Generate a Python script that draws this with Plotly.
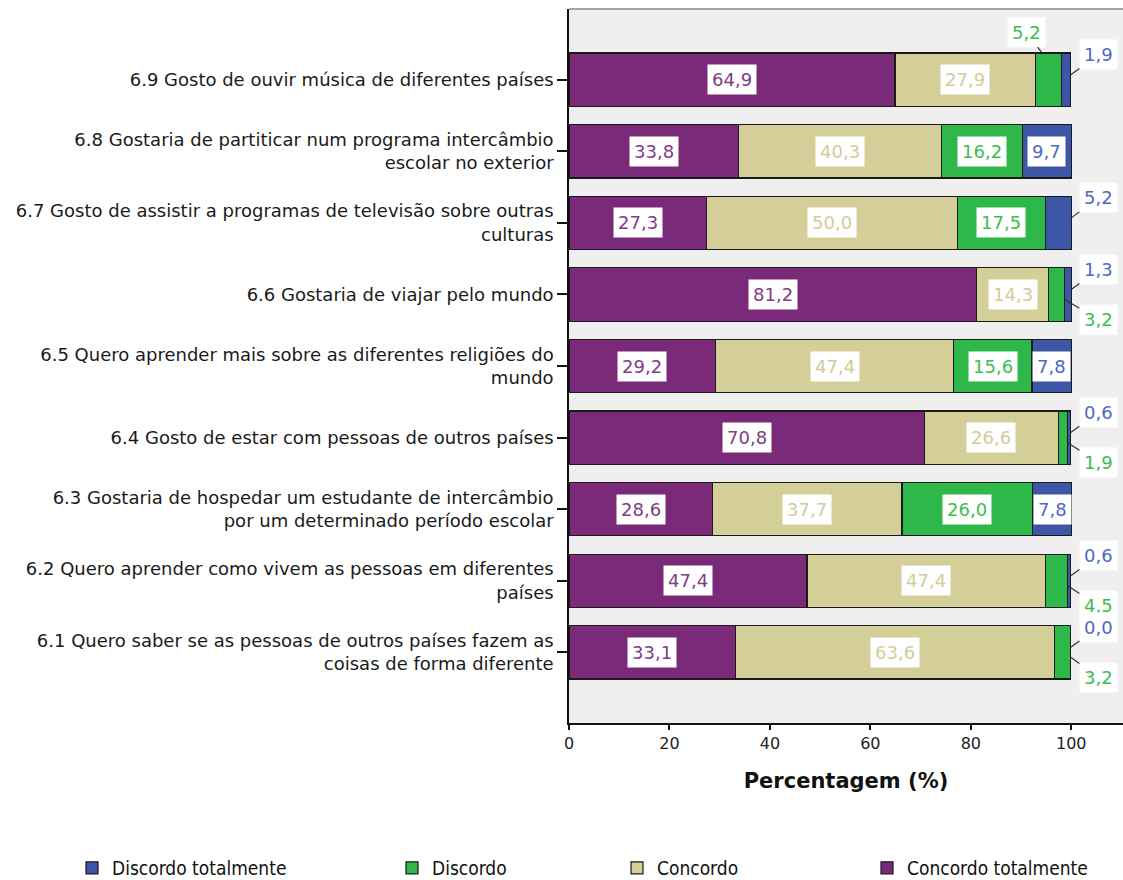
import plotly.graph_objects as go

# ---------------- data ----------------
categories = [
    "6.9 Gosto de ouvir música de diferentes países",
    "6.8 Gostaria de partiticar num programa intercâmbio<br>escolar no exterior",
    "6.7 Gosto de assistir a programas de televisão sobre outras<br>culturas",
    "6.6 Gostaria de viajar pelo mundo",
    "6.5 Quero aprender mais sobre as diferentes religiões do<br>mundo",
    "6.4 Gosto de estar com pessoas de outros países",
    "6.3 Gostaria de hospedar um estudante de intercâmbio<br>por um determinado período escolar",
    "6.2 Quero aprender como vivem as pessoas em diferentes<br>países",
    "6.1 Quero saber se as pessoas de outros países fazem as<br>coisas de forma diferente",
]
concordo_totalmente = [64.9, 33.8, 27.3, 81.2, 29.2, 70.8, 28.6, 47.4, 33.1]
concordo = [27.9, 40.3, 50.0, 14.3, 47.4, 26.6, 37.7, 47.4, 63.6]
discordo = [5.2, 16.2, 17.5, 3.2, 15.6, 1.9, 26.0, 4.5, 3.2]
discordo_totalmente = [1.9, 9.7, 5.2, 1.3, 7.8, 0.6, 7.8, 0.6, 0.0]
x_ticks = [0, 20, 40, 60, 80, 100]

# ---------------- style ----------------
FONT = "DejaVu Sans"
COND = "DejaVu Sans Condensed, DejaVu Sans"
series = [
    ("Concordo totalmente", concordo_totalmente, "#7B2A7A", "#803C86", "legend4"),
    ("Concordo", concordo, "#D4CE98", "#D3CC98", "legend3"),
    ("Discordo", discordo, "#2FB84A", "#3BBE50", "legend2"),
    ("Discordo totalmente", discordo_totalmente, "#3E56A6", "#4C69C4", "legend"),
]
INLINE_MIN = 7.0
yidx = list(range(len(categories)))

fig = go.Figure()
for name, vals, col, _, leg in series:
    fig.add_trace(go.Bar(
        y=yidx, x=vals, orientation="h", name=name, width=0.745,
        marker=dict(color=col, line=dict(color="#1A1A1A", width=1.2)),
        legend=leg, hoverinfo="skip",
    ))

def fmt(v):
    return f"{v:.1f}".replace(".", ",")

annotations = []
for i in yidx:
    cum = 0.0
    total = sum(s[1][i] for s in series)
    for k, (name, vals, col, tcol, _) in enumerate(series):
        v = vals[i]
        if v >= INLINE_MIN:
            annotations.append(dict(
                x=cum + v / 2, y=i, text=fmt(v), showarrow=False,
                font=dict(family=FONT, size=18, color=tcol),
                bgcolor="white", borderpad=4,
            ))
        else:
            if name == "Discordo totalmente":
                hx, hy, tx, ay = total, i - 0.07, 105.4, -20
            elif i == 0:  # top row: green label above bar
                hx, hy, tx, ay = cum + 1.4, i - 0.372, 91.1, -21
            else:
                hx, hy, tx, ay = cum + v, i + 0.07, 105.4, 20
            annotations.append(dict(
                x=hx, y=hy, ax=tx, axref="x", ay=ay, ayref="pixel",
                text=fmt(v), showarrow=True, arrowhead=0, arrowwidth=1.2,
                arrowcolor="#333333", standoff=0,
                font=dict(family=FONT, size=18, color=tcol),
                bgcolor="white", borderpad=4,
            ))
        cum += v

L, R, T, B = 569, 0, 9, 157
W, H = 1123, 880
pw = W - L - R

def px2paper(px):
    return (px - L) / pw

legend_common = dict(
    orientation="h", yanchor="middle", y=-0.203, xanchor="left",
    font=dict(family=COND, size=19, color="#111111"),
    bgcolor="rgba(0,0,0,0)", itemclick=False, itemdoubleclick=False,
)
layout_legends = {
    "legend": dict(x=px2paper(72), **legend_common),
    "legend2": dict(x=px2paper(392), **legend_common),
    "legend3": dict(x=px2paper(617), **legend_common),
    "legend4": dict(x=px2paper(867), **legend_common),
}

fig.update_layout(
    width=W, height=H,
    margin=dict(l=L, r=R, t=T, b=B, pad=0, autoexpand=False),
    barmode="stack",
    plot_bgcolor="#EFEFEF",
    paper_bgcolor="white",
    font=dict(family=FONT, size=18, color="#1A1A1A"),
    showlegend=True,
    annotations=annotations,
    **layout_legends,
)
fig.update_xaxes(
    automargin=False,
    range=[0, 110.3], tickvals=x_ticks, ticktext=[str(t) for t in x_ticks],
    showgrid=False, zeroline=False, showline=True, linecolor="#111111", linewidth=1.5,
    ticks="outside", ticklen=5, tickwidth=1.5, tickcolor="#111111",
    tickfont=dict(family=FONT, size=16, color="#222222"),
    title=dict(text="<b>Percentagem (%)</b>", font=dict(family=FONT, size=21, color="#111111"), standoff=21),
)
fig.update_yaxes(
    automargin=False,
    range=[len(categories) - 1 + 0.987, -0.988], tickvals=yidx, ticktext=categories,
    showgrid=False, zeroline=False, showline=True, linecolor="#111111", linewidth=1.5,
    ticks="outside", ticklen=10, tickwidth=1.5, tickcolor="#111111",
    tickfont=dict(family=FONT, size=18, color="#1A1A1A"),
)
fig.add_shape(type="line", xref="paper", yref="paper", x0=0, x1=1, y0=1, y1=1,
              line=dict(color="#8A8A8A", width=1.5))

fig.write_html(
    "out.html",
    config={"displayModeBar": False},
    post_script="document.body.style.margin='0';document.body.style.overflow='hidden';",
)
